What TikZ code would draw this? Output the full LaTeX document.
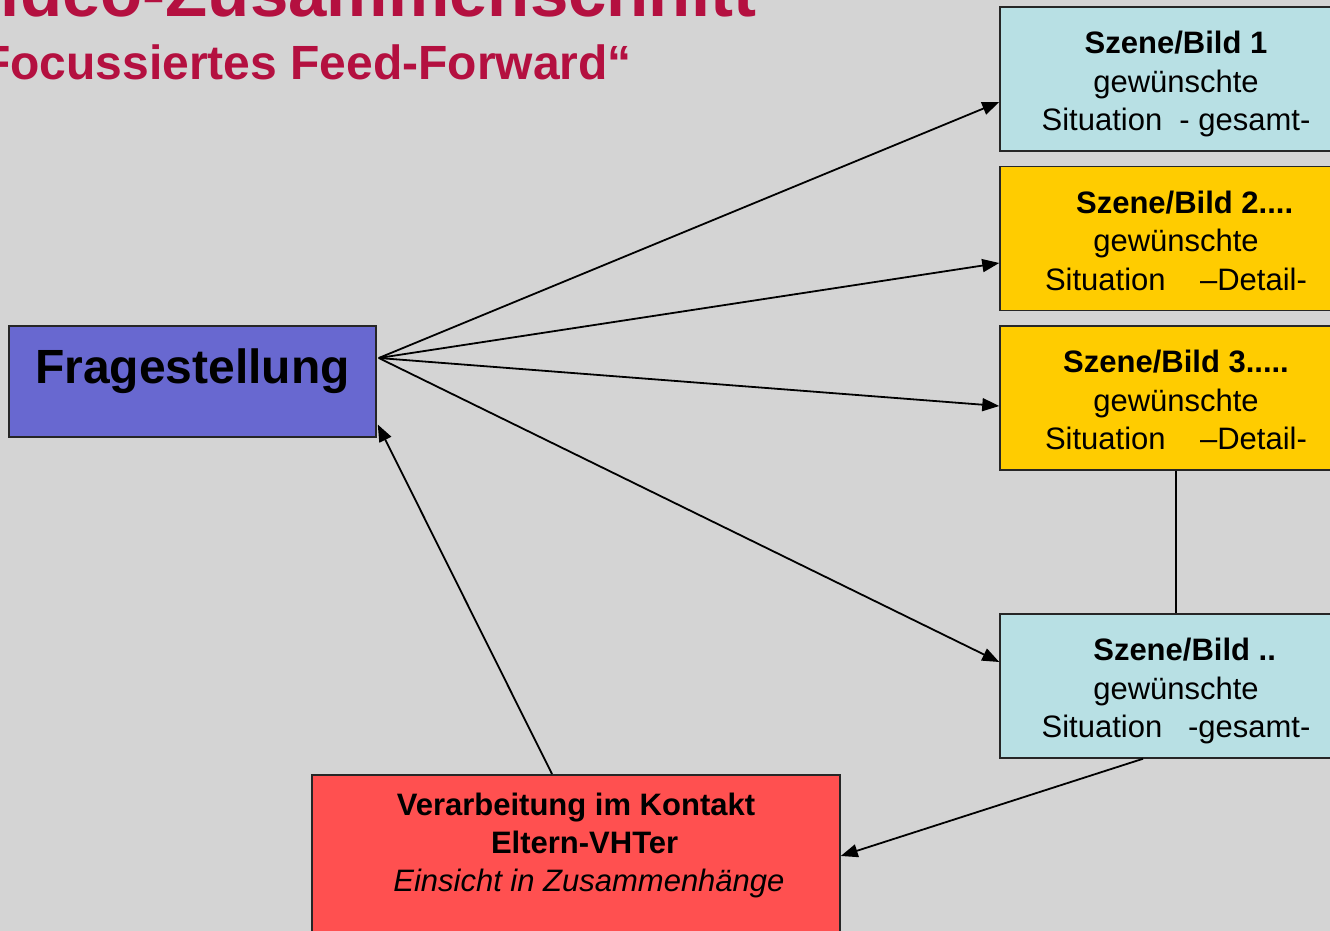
\documentclass[tikz,border=0pt]{standalone}
\usepackage{fontspec}
\setmainfont{Liberation Sans}
\usetikzlibrary{arrows.meta,calc}
\definecolor{titlered}{RGB}{180,16,64}
\definecolor{bggray}{RGB}{212,212,212}
\definecolor{frageblue}{RGB}{104,104,208}
\definecolor{szenecyan}{RGB}{184,224,228}
\definecolor{szeneyellow}{RGB}{255,204,0}
\definecolor{verarbred}{RGB}{255,80,80}
\begin{document}
\begin{tikzpicture}[x=1pt,y=-1pt,
	scenebox/.style={rectangle, draw=black!85, line width=1.5pt, minimum width=352pt, minimum height=144pt, align=center, text height=110pt, text depth=6.5pt, font=\fontsize{31}{38.5}\selectfont},
	titletext/.style={anchor=base west, inner sep=0pt, text=titlered},
	pfeil/.style={-{Triangle[length=17pt,width=13pt]}, line width=1.8pt}]
	\fill[bggray] (0,0) rectangle (1330,931);
	\useasboundingbox (0,0) rectangle (1330,931);
	\node (T1) at (-44, 17)	[titletext, font=\fontsize{69}{69}\selectfont\bfseries]	{Video-Zusammenschnitt};
	\node (T2) at (-19, 80)	[titletext, font=\fontsize{48}{48}\selectfont\bfseries]	{Focussiertes Feed-Forward“};
	\node (Frage) at (192.5, 381.5)	[rectangle, draw=black!85, line width=1.5pt, fill=frageblue, minimum width=367pt, minimum height=111pt, text depth=30pt, font=\fontsize{48}{48}\selectfont\bfseries]	{Fragestellung};
	\node (S1) at (1176, 79)	[scenebox, fill=szenecyan]	{\textbf{Szene/Bild 1}\\gewünschte\\Situation\ \ - gesamt-};
	\node (S2) at (1176, 238.5)	[scenebox, fill=szeneyellow]	{\textbf{\ \ Szene/Bild 2....}\\gewünschte\\Situation\ \ \ \ –Detail-};
	\node (S3) at (1176, 398)	[scenebox, fill=szeneyellow]	{\textbf{Szene/Bild 3.....}\\gewünschte\\Situation\ \ \ \ –Detail-};
	\node (S4) at (1176, 686)	[scenebox, fill=szenecyan]	{\textbf{\ \ Szene/Bild ..}\\gewünschte\\Situation\ \ \ -gesamt-};
	\node (V) at (576, 774)	[anchor=north, rectangle, draw=black!85, line width=1.5pt, fill=verarbred, minimum width=528pt, inner ysep=18pt, text depth=40pt, align=center, font=\fontsize{31}{38}\selectfont]	{\textbf{Verarbeitung im Kontakt}\\\textbf{\ \ Eltern-VHTer}\\\textit{\ \ \ Einsicht in Zusammenhänge}};
	\coordinate (Fout) at ($(Frage.east)+(2,-23.5)$);
	\draw[pfeil] (Fout) -- ($(S1.west)+(0,23)$);
	\draw[pfeil] (Fout) -- ($(S2.west)+(0,24.5)$);
	\draw[pfeil] (Fout) -- ($(S3.west)+(0,8)$);
	\draw[pfeil] (Fout) -- ($(S4.west)+(0,-24)$);
	\draw[line width=1.5pt] (S3.south) -- (S4.north);
	\draw[pfeil] ($(S4.south)+(-33,0)$) -- ($(V.east)+(0,-6)$);
	\draw[pfeil] ($(V.north)+(-24,0)$) -- ($(Frage.east)+(1,43)$);
\end{tikzpicture}
\end{document}
